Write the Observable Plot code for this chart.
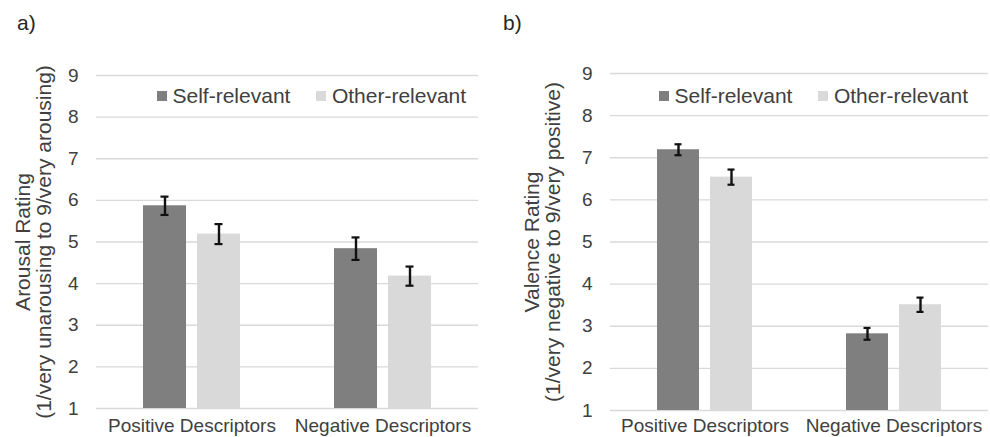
<!DOCTYPE html>
<html>
<head>
<meta charset="utf-8">
<script src="https://cdn.jsdelivr.net/npm/d3@7"></script>
<script src="https://cdn.jsdelivr.net/npm/@observablehq/plot@0.6"></script>
<style>
  html, body { margin: 0; padding: 0; background: #fff; }
  #root { position: relative; width: 990px; height: 437px; overflow: hidden; font-family: "Liberation Sans", Arial, sans-serif; }
  .panel { position: absolute; top: 0; width: 495px; height: 437px; }
  .tag { position: absolute; font-size: 21px; line-height: 21px; color: #262626; }
  .legend { position: absolute; display: flex; align-items: center; font-size: 21px; line-height: 21px; color: #404040; white-space: nowrap; }
  .legend .sw { display: inline-block; width: 10px; height: 10px; margin-right: 5.5px; }
  .legend .item { display: flex; align-items: center; margin-right: 26px; }
</style>
</head>
<body>
<div id="root"></div>
<script>
// ---- data ----
const categories = ["Positive Descriptors", "Negative Descriptors"];
const series = ["Self-relevant", "Other-relevant"];
const seriesColors = ["#7f7f7f", "#d9d9d9"];
const yTicks = [1, 2, 3, 4, 5, 6, 7, 8, 9];

const arousalSelf = [5.87, 4.84];
const arousalOther = [5.19, 4.18];
const arousalSelfErr = [0.22, 0.27];
const arousalOtherErr = [0.24, 0.23];

const valenceSelf = [7.19, 2.82];
const valenceOther = [6.54, 3.51];
const valenceSelfErr = [0.13, 0.14];
const valenceOtherErr = [0.18, 0.17];

const arousalTitle = "Arousal Rating\n(1/very unarousing to 9/very arousing)";
const valenceTitle = "Valence Rating\n(1/very negative to 9/very positive)";

function rows(selfV, otherV, selfE, otherE) {
  const out = [];
  categories.forEach((c, i) => {
    out.push({cat: c, series: series[0], v: selfV[i], e: selfE[i]});
    out.push({cat: c, series: series[1], v: otherV[i], e: otherE[i]});
  });
  return out;
}

function panel(data, title, m) {
  return Plot.plot({
    width: 495,
    height: 437,
    marginLeft: m.left,
    marginRight: m.right,
    marginTop: m.top,
    marginBottom: m.bottom,
    style: {fontFamily: "Liberation Sans, Arial, sans-serif", fontSize: "19px", color: "#404040", background: "transparent"},
    fx: {domain: categories, padding: 0, axis: "bottom", tickSize: 0, tickPadding: m.fxPad, label: null},
    x: {domain: series, axis: null, paddingInner: 0.21, paddingOuter: 0.86},
    y: {domain: [1, 9], ticks: yTicks, tickSize: 0, tickPadding: 18, label: null, tickFormat: d3.format("d")},
    color: {domain: series, range: seriesColors},
    marks: [
      Plot.ruleY(yTicks, {stroke: "#d9d9d9", strokeWidth: 1.4}),
      Plot.barY(data, {fx: "cat", x: "series", y1: 1, y2: "v", fill: "series"}),
      Plot.ruleX(data, {fx: "cat", x: "series", y1: d => d.v - d.e, y2: d => d.v + d.e, stroke: "#111", strokeWidth: 2.4}),
      Plot.tickY(data, {fx: "cat", x: "series", y: d => d.v - d.e, stroke: "#111", strokeWidth: 2.2, insetLeft: 17.5, insetRight: 17.5}),
      Plot.tickY(data, {fx: "cat", x: "series", y: d => d.v + d.e, stroke: "#111", strokeWidth: 2.2, insetLeft: 17.5, insetRight: 17.5}),
      Plot.text([title], {fx: () => categories[0], text: d => d, frameAnchor: "left", rotate: -90, textAnchor: "middle", lineHeight: 1, fontSize: 21, fill: "#404040", dx: m.titleDx})
    ]
  });
}

function legend(left, top) {
  const div = document.createElement("div");
  div.className = "legend";
  div.style.left = left + "px";
  div.style.top = top + "px";
  series.forEach((s, i) => {
    const item = document.createElement("span");
    item.className = "item";
    const sw = document.createElement("span");
    sw.className = "sw";
    sw.style.background = seriesColors[i];
    const t = document.createElement("span");
    t.textContent = s;
    item.appendChild(sw);
    item.appendChild(t);
    div.appendChild(item);
  });
  return div;
}

const root = document.getElementById("root");

const pa = document.createElement("div");
pa.className = "panel"; pa.style.left = "0px";
pa.appendChild(panel(rows(arousalSelf, arousalOther, arousalSelfErr, arousalOtherErr), arousalTitle,
  {left: 96, right: 17, top: 75, bottom: 29, fxPad: 10, titleDx: -63.2}));
root.appendChild(pa);

const pb = document.createElement("div");
pb.className = "panel"; pb.style.left = "495px";
pb.appendChild(panel(rows(valenceSelf, valenceOther, valenceSelfErr, valenceOtherErr), valenceTitle,
  {left: 114, right: 2, top: 73, bottom: 27, fxPad: 8, titleDx: -67.7}));
root.appendChild(pb);

root.appendChild(legend(157, 85));
root.appendChild(legend(659, 85));

const ta = document.createElement("div");
ta.className = "tag"; ta.style.left = "17px"; ta.style.top = "12px"; ta.textContent = "a)";
root.appendChild(ta);
const tb = document.createElement("div");
tb.className = "tag"; tb.style.left = "503px"; tb.style.top = "12px"; tb.textContent = "b)";
root.appendChild(tb);
</script>
</body>
</html>
